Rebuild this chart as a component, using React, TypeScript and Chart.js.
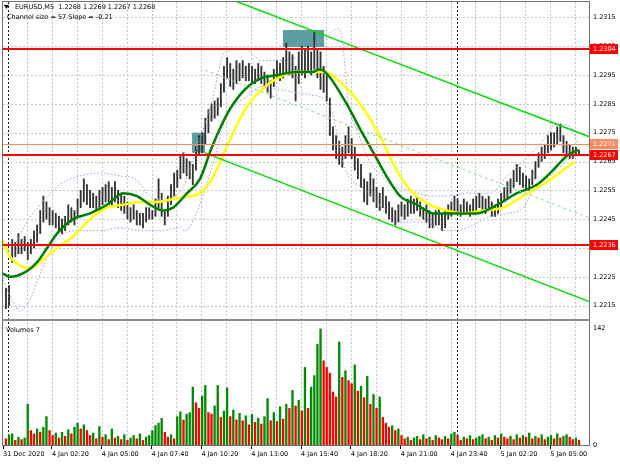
import React, { useEffect, useRef } from 'react';
import { Chart, registerables } from 'chart.js';

Chart.register(...registerables);

// ---------- texts ----------
const SYMBOL_TITLE = 'EURUSD,M5  1.2268 1.2269 1.2267 1.2268';
const CHANNEL_TEXT = 'Channel size = 57 Slope = -0.21';
const VOLUME_TITLE = 'Volumes 7';

// ---------- axes ----------
const X_MIN = -3.4;
const X_MAX = 372.9;
const PRICE_MIN = 1.221004;
const PRICE_MAX = 1.232031;
const VOL_MAX = 152.4;
const PRICE_TICKS = [1.2215, 1.2225, 1.2235, 1.2245, 1.2255, 1.2265, 1.2275, 1.2285, 1.2295, 1.2305, 1.2315];
const VOLUME_TICKS = [0, 142];
const TIME_TICK_POS = [-3.4, 28, 60, 92, 124, 156, 188, 220, 252, 284, 316, 348];
const TIME_TICK_LABELS = ['31 Dec 2020', '4 Jan 02:20', '4 Jan 05:00', '4 Jan 07:40', '4 Jan 10:20', '4 Jan 13:00',
  '4 Jan 15:40', '4 Jan 18:20', '4 Jan 21:00', '4 Jan 23:40', '5 Jan 02:20', '5 Jan 05:00'];
const GRID_FIRST = 12;
const GRID_STEP = 16;
const DAY_BREAKS = [0, 288];

// ---------- bars (each entry spans two M5 bars) ----------
const FIRST_BAR = -1.5;
const BAR_STEP = 2;

const BAR_HIGH = [
  1.2221, 1.2222, 1.2238, 1.2237, 1.2240, 1.2238, 1.2239, 1.2237, 1.2238, 1.2241,
  1.2243, 1.2248, 1.2253, 1.2251, 1.2249, 1.2248, 1.2247, 1.2246, 1.2245, 1.2246,
  1.2250, 1.2249, 1.2248, 1.2252, 1.2255, 1.2259, 1.2257, 1.2255, 1.2254, 1.2253,
  1.2255, 1.2256, 1.2257, 1.2258, 1.2256, 1.2258, 1.2255, 1.2254, 1.2253, 1.2251,
  1.2249, 1.2250, 1.2248, 1.2247, 1.2247, 1.2249, 1.2249, 1.2248, 1.2252, 1.2259,
  1.2254, 1.2248, 1.2253, 1.2257, 1.2261, 1.2262, 1.2267, 1.2268, 1.2266, 1.2265,
  1.2264, 1.2270, 1.2274, 1.2275, 1.2280, 1.2283, 1.2285, 1.2286, 1.2287, 1.2292,
  1.2298, 1.2301, 1.2299, 1.2297, 1.2300, 1.2299, 1.2300, 1.2298, 1.2299, 1.2298,
  1.2297, 1.2299, 1.2298, 1.2296, 1.2295, 1.2293, 1.2297, 1.2300, 1.2299, 1.2301,
  1.2306, 1.2303, 1.2302, 1.2298, 1.2303, 1.2305, 1.2304, 1.2305, 1.2303, 1.2310,
  1.2304, 1.2303, 1.2298, 1.2296, 1.2287, 1.2277, 1.2274, 1.2272, 1.2270, 1.2274,
  1.2277, 1.2273, 1.2270, 1.2266, 1.2264, 1.2259, 1.2258, 1.2261, 1.2259, 1.2256,
  1.2254, 1.2256, 1.2253, 1.2251, 1.2249, 1.2248, 1.2250, 1.2251, 1.2250, 1.2252,
  1.2253, 1.2252, 1.2253, 1.2251, 1.2249, 1.2250, 1.2248, 1.2247, 1.2248, 1.2249,
  1.2247, 1.2248, 1.2250, 1.2251, 1.2253, 1.2252, 1.2250, 1.2252, 1.2251, 1.2250,
  1.2252, 1.2253, 1.2254, 1.2253, 1.2252, 1.2253, 1.2251, 1.2250, 1.2252, 1.2254,
  1.2256, 1.2258, 1.2259, 1.2262, 1.2264, 1.2263, 1.2261, 1.2260, 1.2259, 1.2262,
  1.2265, 1.2268, 1.2270, 1.2271, 1.2274, 1.2275, 1.2275, 1.2277, 1.2278, 1.2274,
  1.2272, 1.2271, 1.2270, 1.2270, 1.2269,
];

const BAR_LOW = [
  1.2214, 1.2215, 1.2230, 1.2232, 1.2233, 1.2233, 1.2234, 1.2231, 1.2233, 1.2235,
  1.2237, 1.2240, 1.2244, 1.2245, 1.2243, 1.2243, 1.2242, 1.2241, 1.2240, 1.2241,
  1.2243, 1.2244, 1.2243, 1.2246, 1.2249, 1.2251, 1.2250, 1.2249, 1.2249, 1.2248,
  1.2249, 1.2250, 1.2251, 1.2250, 1.2250, 1.2251, 1.2249, 1.2248, 1.2247, 1.2245,
  1.2244, 1.2245, 1.2243, 1.2243, 1.2242, 1.2244, 1.2245, 1.2245, 1.2246, 1.2249,
  1.2246, 1.2243, 1.2246, 1.2250, 1.2253, 1.2256, 1.2259, 1.2261, 1.2260, 1.2259,
  1.2257, 1.2262, 1.2267, 1.2268, 1.2271, 1.2275, 1.2279, 1.2280, 1.2281, 1.2284,
  1.2289, 1.2294, 1.2291, 1.2290, 1.2292, 1.2293, 1.2294, 1.2293, 1.2293, 1.2292,
  1.2292, 1.2293, 1.2292, 1.2291, 1.2289, 1.2287, 1.2291, 1.2294, 1.2293, 1.2294,
  1.2296, 1.2295, 1.2294, 1.2286, 1.2292, 1.2295, 1.2294, 1.2296, 1.2295, 1.2297,
  1.2294, 1.2290, 1.2289, 1.2286, 1.2274, 1.2269, 1.2266, 1.2264, 1.2263, 1.2266,
  1.2268, 1.2266, 1.2262, 1.2259, 1.2256, 1.2251, 1.2250, 1.2253, 1.2251, 1.2249,
  1.2248, 1.2249, 1.2247, 1.2245, 1.2244, 1.2243, 1.2244, 1.2246, 1.2245, 1.2246,
  1.2247, 1.2247, 1.2248, 1.2246, 1.2245, 1.2244, 1.2242, 1.2242, 1.2243, 1.2243,
  1.2241, 1.2242, 1.2245, 1.2246, 1.2247, 1.2247, 1.2246, 1.2247, 1.2247, 1.2246,
  1.2247, 1.2248, 1.2249, 1.2248, 1.2247, 1.2248, 1.2246, 1.2246, 1.2247, 1.2249,
  1.2251, 1.2252, 1.2254, 1.2256, 1.2258, 1.2257, 1.2256, 1.2255, 1.2255, 1.2257,
  1.2259, 1.2263, 1.2265, 1.2266, 1.2268, 1.2269, 1.2270, 1.2271, 1.2272, 1.2268,
  1.2267, 1.2266, 1.2266, 1.2267, 1.2267,
];

const VOLUME = [
  8, 12, 14, 6, 10, 7, 9, 50, 18, 14,
  20, 16, 22, 35, 18, 12, 15, 9, 16, 11,
  19, 14, 22, 27, 20, 25, 18, 12, 15, 8,
  23, 10, 13, 7, 20, 9, 11, 7, 13, 6,
  9, 12, 8, 14, 6, 10, 12, 18, 24, 27,
  33, 16, 10, 13, 8, 35, 41, 31, 38, 40,
  71, 52, 45, 60, 73, 40, 38, 48, 73, 34,
  42, 70, 35, 43, 31, 39, 30, 36, 25, 38,
  28, 33, 26, 35, 57, 30, 40, 29, 47, 32,
  50, 45, 67, 48, 55, 42, 95, 45, 71, 85,
  123, 142, 103, 95, 88, 65, 59, 126, 83, 91,
  79, 75, 98, 66, 72, 58, 84, 50, 62, 45,
  59, 34, 27, 22, 24, 18, 20, 12, 8, 10,
  6, 9, 11, 7, 13, 8, 10, 6, 12, 9,
  7, 11, 8, 14, 16, 12, 6, 10, 8, 12,
  7, 9, 11, 13, 8, 10, 6, 12, 9, 14,
  10, 8, 11, 7, 13, 9, 12, 10, 15, 8,
  11, 9, 13, 7, 10, 12, 8, 14, 9, 11,
  13, 10, 7, 9, 6,
];

// ---------- indicator lines [bar index, price] ----------
const MA_FAST: [number, number][] = [
  [-4, 1.22263], [1.1, 1.2225], [12, 1.2227], [18.4, 1.2230], [24.9, 1.2235], [31.3, 1.2240],
  [41.6, 1.2245], [52.5, 1.2247], [63.4, 1.2250], [73.7, 1.2254], [82.7, 1.2253], [91, 1.2250],
  [99.4, 1.2248], [105.8, 1.2249], [114.8, 1.2254], [123.1, 1.2259], [130.8, 1.2270], [141.1, 1.2282],
  [152, 1.2290], [162.9, 1.2294], [173.2, 1.2295], [184.1, 1.2296], [195, 1.2296], [200.2, 1.2297],
  [205.3, 1.2295], [216.2, 1.2286], [227.2, 1.2275], [235.5, 1.2267], [243.9, 1.2259], [251.6, 1.2253],
  [262.5, 1.2250], [272.8, 1.2247], [288.2, 1.2247], [301, 1.2247], [313.9, 1.2250], [326.7, 1.2254],
  [339.6, 1.2257], [349.8, 1.2262], [358.8, 1.2267], [365.9, 1.2269],
];

const MA_SLOW: [number, number][] = [
  [-4, 1.2238], [1.1, 1.2232], [7.5, 1.2229], [13.9, 1.2228], [22.3, 1.2231], [31.3, 1.2235],
  [41.6, 1.2239], [52.5, 1.2245], [63.4, 1.2249], [73.7, 1.2250], [84.6, 1.2251], [95.5, 1.2251],
  [105.8, 1.2252], [116.7, 1.2253], [123.1, 1.2254], [130.8, 1.2259], [141.1, 1.2271], [152, 1.2283],
  [162.9, 1.2290], [173.2, 1.2294], [184.1, 1.2296], [195, 1.2296], [203.4, 1.2296], [214.3, 1.2292],
  [227.2, 1.2284], [237.4, 1.2275], [246.4, 1.2265], [251.6, 1.2260], [259.9, 1.2254], [270.8, 1.2250],
  [281.8, 1.2248], [292, 1.2247], [304.9, 1.2248], [317.7, 1.2249], [330.5, 1.2253], [343.4, 1.2257],
  [356.2, 1.2262], [363.9, 1.2265],
];

const ENV_UPPER: [number, number][] = [
  [4.3, 1.2236], [10.7, 1.2243], [20.4, 1.2250], [33.2, 1.2257], [46.1, 1.2260], [58.9, 1.2261],
  [71.7, 1.2260], [81.4, 1.2259], [91, 1.2253], [97.4, 1.2252], [107.1, 1.2253], [112, 1.2256],
  [120, 1.2268], [130.8, 1.2286], [139.2, 1.2303], [152, 1.2304], [162.9, 1.2300], [173.2, 1.2300],
  [184.1, 1.2301], [201.5, 1.2307], [211.7, 1.2311], [214.3, 1.2308], [218.2, 1.2286], [224.6, 1.2275],
  [231, 1.2266], [240, 1.2260], [245.1, 1.2257], [258, 1.2255], [270.8, 1.2253], [281.8, 1.2253],
  [294.6, 1.2254], [309.4, 1.2254], [320.3, 1.2260], [330.6, 1.2265], [341.5, 1.2271], [352.4, 1.2278],
  [360.8, 1.2277], [365.9, 1.2271],
];

const ENV_LOWER: [number, number][] = [
  [-3.4, 1.2224], [2.4, 1.2217], [7.5, 1.2213], [13.9, 1.2217], [20.4, 1.2226], [31.3, 1.2238],
  [44.2, 1.2241], [58.9, 1.2241], [71.7, 1.2242], [84.6, 1.2241], [97.4, 1.2241], [110.3, 1.2242],
  [113.5, 1.2241], [119.9, 1.2246], [130.8, 1.2263], [141.1, 1.2282], [152, 1.2287], [162.9, 1.2291],
  [173.2, 1.2290], [184.1, 1.2289], [195, 1.2288], [201.5, 1.2287], [207.9, 1.2282], [214.3, 1.2266],
  [218.2, 1.2260], [227.2, 1.2256], [235.5, 1.2252], [243.9, 1.2246], [254.8, 1.2244], [266.3, 1.2244],
  [281.8, 1.2241], [294.6, 1.2242], [309.4, 1.2246], [320.3, 1.2247], [330.6, 1.2249], [337, 1.2255],
  [347.9, 1.2260], [360.8, 1.2266], [365.9, 1.2267],
];

// regression channel [bar index, price]
const CHANNEL_UPPER: [number, number][] = [[126.2, 1.23247], [373.6, 1.22735]];
const CHANNEL_MID: [number, number][] = [[126.2, 1.22967], [373.6, 1.22454]];
const CHANNEL_LOWER: [number, number][] = [[126.2, 1.22680], [373.6, 1.22163]];

// horizontal levels
const LEVELS = [1.2304, 1.2271, 1.22674, 1.2236];

// shaded zones: [from bar, to bar, low price, high price]
const ZONES: [number, number, number, number][] = [
  [118, 126.3, 1.2268, 1.2275],
  [176.4, 202.8, 1.23047, 1.23106],
];

// ---------- styles ----------
const FONT_FAMILY = '"DejaVu Sans", sans-serif';
const FONT_SIZE = 6.5;
const LEVEL_STYLE = [
  { color: '#ff0000', width: 2 },
  { color: '#ff8a5c', width: 1 },
  { color: '#ff0000', width: 2 },
  { color: '#ff0000', width: 2 },
];

const decorPlugin = {
  id: 'mt4Decor',
  beforeDatasetsDraw(chart: any) {
    const { ctx, chartArea } = chart;
    const x = chart.scales.x, y = chart.scales.y, yv = chart.scales.yv;
    const L = chartArea.left, R = chartArea.right;
    ctx.save();
    ctx.lineWidth = 1;
    ctx.strokeStyle = '#c4c4c4';
    ctx.setLineDash([2, 2]);
    ctx.beginPath();
    for (const p of PRICE_TICKS) {
      const py = Math.round(y.getPixelForValue(p)) + 0.5;
      ctx.moveTo(L, py);
      ctx.lineTo(R, py);
    }
    for (let b = GRID_FIRST; b < X_MAX; b += GRID_STEP) {
      const px = Math.round(x.getPixelForValue(b)) + 0.5;
      ctx.moveTo(px, y.top);
      ctx.lineTo(px, yv.bottom);
    }
    ctx.stroke();
    ctx.strokeStyle = '#222';
    ctx.beginPath();
    for (const b of DAY_BREAKS) {
      const px = Math.round(x.getPixelForValue(b)) + 0.5;
      ctx.moveTo(px, y.top);
      ctx.lineTo(px, yv.bottom);
    }
    ctx.stroke();
    ctx.setLineDash([]);
    ctx.fillStyle = '#5c9ea1';
    for (const [b0, b1, lo, hi] of ZONES) {
      const x0 = x.getPixelForValue(b0), x1 = x.getPixelForValue(b1);
      const y0 = y.getPixelForValue(hi), y1 = y.getPixelForValue(lo);
      ctx.fillRect(x0, y0, x1 - x0, y1 - y0);
    }
    ctx.restore();
  },
  afterDatasetsDraw(chart: any) {
    const { ctx, chartArea } = chart;
    const y = chart.scales.y;
    const L = chartArea.left, R = chartArea.right;
    ctx.save();
    ctx.beginPath();
    ctx.rect(L, y.top, R - L, y.bottom - y.top);
    ctx.clip();
    LEVELS.forEach((lv, i) => {
      const st = LEVEL_STYLE[i];
      const py = Math.round(y.getPixelForValue(lv));
      ctx.strokeStyle = st.color;
      ctx.lineWidth = st.width;
      ctx.beginPath();
      const off = st.width % 2 === 1 ? 0.5 : 0;
      ctx.moveTo(L, py + off);
      ctx.lineTo(R, py + off);
      ctx.stroke();
    });
    ctx.restore();
  },
  afterDraw(chart: any) {
    const { ctx, chartArea } = chart;
    const y = chart.scales.y, yv = chart.scales.yv;
    const L = chartArea.left, R = chartArea.right;
    ctx.save();
    ctx.strokeStyle = '#707070';
    ctx.lineWidth = 1;
    ctx.strokeRect(L - 0.5, y.top - 0.5, R - L + 1, y.bottom - y.top);
    ctx.strokeRect(L - 0.5, yv.top + 0.5, R - L + 1, yv.bottom - yv.top);
    ctx.fillStyle = '#8c8c8c';
    ctx.fillRect(L - 1, y.bottom - 1, R - L + 2, 2);
    ctx.font = `${FONT_SIZE}px ${FONT_FAMILY}`;
    ctx.textBaseline = 'middle';
    ctx.textAlign = 'left';
    LEVELS.forEach((lv, i) => {
      const py = Math.round(y.getPixelForValue(lv));
      ctx.fillStyle = LEVEL_STYLE[i].color;
      ctx.fillRect(R + 1, py - 5, 28, 10);
      ctx.fillStyle = '#ffffff';
      ctx.fillText(lv.toFixed(4), R + 4, py + 0.5);
    });
    ctx.fillStyle = '#000';
    ctx.beginPath();
    ctx.moveTo(L + 1, y.top + 3);
    ctx.lineTo(L + 6, y.top + 3);
    ctx.lineTo(L + 3.5, y.top + 7);
    ctx.closePath();
    ctx.fill();
    ctx.fillText(SYMBOL_TITLE, L + 12, y.top + 5.5);
    ctx.fillText(CHANNEL_TEXT, L + 4, y.top + 15);
    ctx.fillText(VOLUME_TITLE, L + 3, yv.top + 10);
    ctx.restore();
  },
};

const noPadV = (s: any) => { s.width = 31; s.paddingTop = 0; s.paddingBottom = 0; };
const noPadH = (s: any) => { s.height = 20; s.paddingLeft = 0; s.paddingRight = 0; };

export default function App() {
  const ref = useRef<HTMLCanvasElement>(null);

  useEffect(() => {
    const canvas = ref.current;
    if (!canvas) return;
    const pts = (a: [number, number][]) => a.map(([x, y]) => ({ x, y }));
    const priceBars = BAR_HIGH.map((h, k) => ({ x: FIRST_BAR + BAR_STEP * k, y: [BAR_LOW[k], h] }));
    const volBars = VOLUME.map((v, k) => ({ x: FIRST_BAR + BAR_STEP * k, y: v }));
    const volColors = VOLUME.map((v, k) => (k > 0 && v > VOLUME[k - 1] ? '#008c00' : '#ff0000'));

    const lineBase = { type: 'line', yAxisID: 'y', pointRadius: 0, fill: false, cubicInterpolationMode: 'monotone' };
    const font = { family: FONT_FAMILY, size: FONT_SIZE };

    const chart = new Chart(canvas, {
      type: 'bar',
      data: {
        datasets: [
          { type: 'bar', data: volBars, yAxisID: 'yv', backgroundColor: volColors, barPercentage: 0.75, categoryPercentage: 1, grouped: false, order: 10 },
          { type: 'bar', data: priceBars, yAxisID: 'y', backgroundColor: '#333333', barThickness: 1.2, grouped: false, order: 9 },
          { ...lineBase, data: pts(ENV_UPPER), borderColor: '#b98ae0', borderWidth: 1, borderDash: [1.5, 2], order: 6 },
          { ...lineBase, data: pts(ENV_LOWER), borderColor: '#b98ae0', borderWidth: 1, borderDash: [1.5, 2], order: 6 },
          { ...lineBase, data: pts(MA_SLOW), borderColor: '#ffff00', borderWidth: 2.5, order: 5 },
          { ...lineBase, data: pts(MA_FAST), borderColor: '#008000', borderWidth: 2.5, order: 4 },
          { ...lineBase, data: pts(CHANNEL_MID), borderColor: '#80e080', borderWidth: 1, borderDash: [3, 3], tension: 0, order: 3 },
          { ...lineBase, data: pts(CHANNEL_UPPER), borderColor: '#00dd00', borderWidth: 1.5, tension: 0, order: 3 },
          { ...lineBase, data: pts(CHANNEL_LOWER), borderColor: '#00dd00', borderWidth: 1.5, tension: 0, order: 3 },
        ] as any,
      },
      options: {
        responsive: false,
        animation: false,
        devicePixelRatio: 1,
        events: [],
        layout: { padding: { top: 2, left: 3, right: 0, bottom: 0 } },
        plugins: { legend: { display: false }, tooltip: { enabled: false } },
        scales: {
          x: {
            type: 'linear',
            min: X_MIN,
            max: X_MAX,
            offset: false,
            border: { display: false },
            grid: { display: true, drawOnChartArea: false, drawTicks: true, tickLength: 4, color: '#000', offset: false },
            afterBuildTicks: (s: any) => { s.ticks = TIME_TICK_POS.map((v) => ({ value: v })); },
            afterFit: noPadH,
            ticks: {
              autoSkip: false, maxRotation: 0, minRotation: 0, align: 'start', padding: 1,
              color: '#000', font, callback: (_v: any, i: number) => TIME_TICK_LABELS[i],
            },
          },
          y: {
            type: 'linear',
            position: 'right',
            stack: 'panes',
            stackWeight: 318,
            min: PRICE_MIN,
            max: PRICE_MAX,
            border: { display: false },
            grid: { display: false, drawTicks: false },
            afterBuildTicks: (s: any) => { s.ticks = PRICE_TICKS.map((v) => ({ value: v })); },
            afterFit: noPadV,
            ticks: { autoSkip: false, padding: 4, color: '#000', font, callback: (v: any) => Number(v).toFixed(4) },
          },
          yv: {
            type: 'linear',
            position: 'right',
            stack: 'panes',
            stackWeight: 125,
            min: 0,
            max: VOL_MAX,
            border: { display: false },
            grid: { display: false, drawTicks: false },
            afterBuildTicks: (s: any) => { s.ticks = VOLUME_TICKS.map((v) => ({ value: v })); },
            afterFit: noPadV,
            ticks: { autoSkip: false, padding: 4, color: '#000', font, callback: (v: any) => String(v) },
          },
        },
      } as any,
      plugins: [decorPlugin],
    });
    return () => chart.destroy();
  }, []);

  return (
    <div style={{ position: 'absolute', left: 0, top: 0, width: 620, height: 465, background: '#ffffff' }}>
      <canvas ref={ref} width={620} height={465} style={{ display: 'block' }} />
    </div>
  );
}
